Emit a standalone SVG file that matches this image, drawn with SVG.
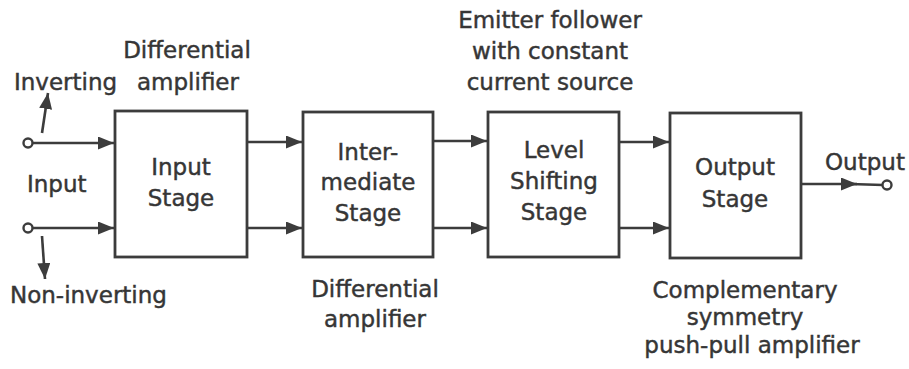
<svg xmlns="http://www.w3.org/2000/svg" width="909" height="369" viewBox="0 0 909 369">
<style>
  .box { fill: none; stroke: #3c3c3c; stroke-width: 2.8; }
  .wire { fill: none; stroke: #3c3c3c; stroke-width: 2.6; }
  .term { fill: #ffffff; stroke: #3c3c3c; stroke-width: 2.4; }
  text { font-family: "DejaVu Sans", "Liberation Sans", sans-serif; font-size: 23px; fill: #363636; stroke: #363636; stroke-width: 0.45; }
  .c { text-anchor: middle; }
</style>
<defs>
  <marker id="ah" viewBox="0 0 16 13" refX="16" refY="6.5" markerWidth="16" markerHeight="13" markerUnits="userSpaceOnUse" orient="auto">
    <path d="M0,0 L16,6.5 L0,13 Z" fill="#3c3c3c"/>
  </marker>
</defs>
<rect width="909" height="369" fill="#ffffff"/>

<g id="connectors">
  <line class="wire" x1="29" y1="143" x2="114" y2="143" marker-end="url(#ah)"/>
  <line class="wire" x1="29" y1="228" x2="114" y2="228" marker-end="url(#ah)"/>
  <line class="wire" x1="42" y1="133" x2="48" y2="93" marker-end="url(#ah)"/>
  <line class="wire" x1="42" y1="236" x2="45" y2="279" marker-end="url(#ah)"/>
  <line class="wire" x1="247" y1="142" x2="302" y2="142" marker-end="url(#ah)"/>
  <line class="wire" x1="247" y1="228" x2="302" y2="228" marker-end="url(#ah)"/>
  <line class="wire" x1="433" y1="141" x2="487" y2="141" marker-end="url(#ah)"/>
  <line class="wire" x1="433" y1="228" x2="487" y2="228" marker-end="url(#ah)"/>
  <line class="wire" x1="619" y1="142" x2="669" y2="142" marker-end="url(#ah)"/>
  <line class="wire" x1="619" y1="228" x2="669" y2="228" marker-end="url(#ah)"/>
  <line class="wire" x1="801" y1="184" x2="857" y2="184" marker-end="url(#ah)"/>
  <line class="wire" x1="850" y1="184" x2="883" y2="185"/>
  <circle class="term" cx="28" cy="143" r="4.5"/>
  <circle class="term" cx="28" cy="228" r="4.5"/>
  <circle class="term" cx="887" cy="185" r="4.5"/>
</g>

<g id="input-stage">
  <rect class="box" x="115" y="111" width="132" height="146"/>
  <text class="c" x="181" y="175">Input</text>
  <text class="c" x="181" y="206">Stage</text>
</g>
<g id="intermediate-stage">
  <rect class="box" x="303" y="112" width="130" height="145"/>
  <text class="c" x="368" y="160">Inter-</text>
  <text class="c" x="368" y="190">mediate</text>
  <text class="c" x="368" y="221">Stage</text>
</g>
<g id="level-shifting-stage">
  <rect class="box" x="488" y="112" width="131" height="145"/>
  <text class="c" x="554" y="158">Level</text>
  <text class="c" x="554" y="189">Shifting</text>
  <text class="c" x="554" y="220">Stage</text>
</g>
<g id="output-stage">
  <rect class="box" x="670" y="113" width="131" height="145"/>
  <text class="c" x="735" y="175">Output</text>
  <text class="c" x="735" y="207">Stage</text>
</g>

<g id="labels">
  <text x="14" y="90">Inverting</text>
  <text class="c" x="187" y="58">Differential</text>
  <text class="c" x="188" y="90">amplifier</text>
  <text x="27" y="192">Input</text>
  <text x="10" y="303">Non-inverting</text>
  <text class="c" x="375" y="297">Differential</text>
  <text class="c" x="375" y="327">amplifier</text>
  <text class="c" x="550" y="28">Emitter follower</text>
  <text class="c" x="550" y="59">with constant</text>
  <text class="c" x="550" y="90">current source</text>
  <text x="825" y="170">Output</text>
  <text class="c" x="745" y="298">Complementary</text>
  <text class="c" x="745" y="325">symmetry</text>
  <text class="c" x="752" y="353">push-pull amplifier</text>
</g>
</svg>
